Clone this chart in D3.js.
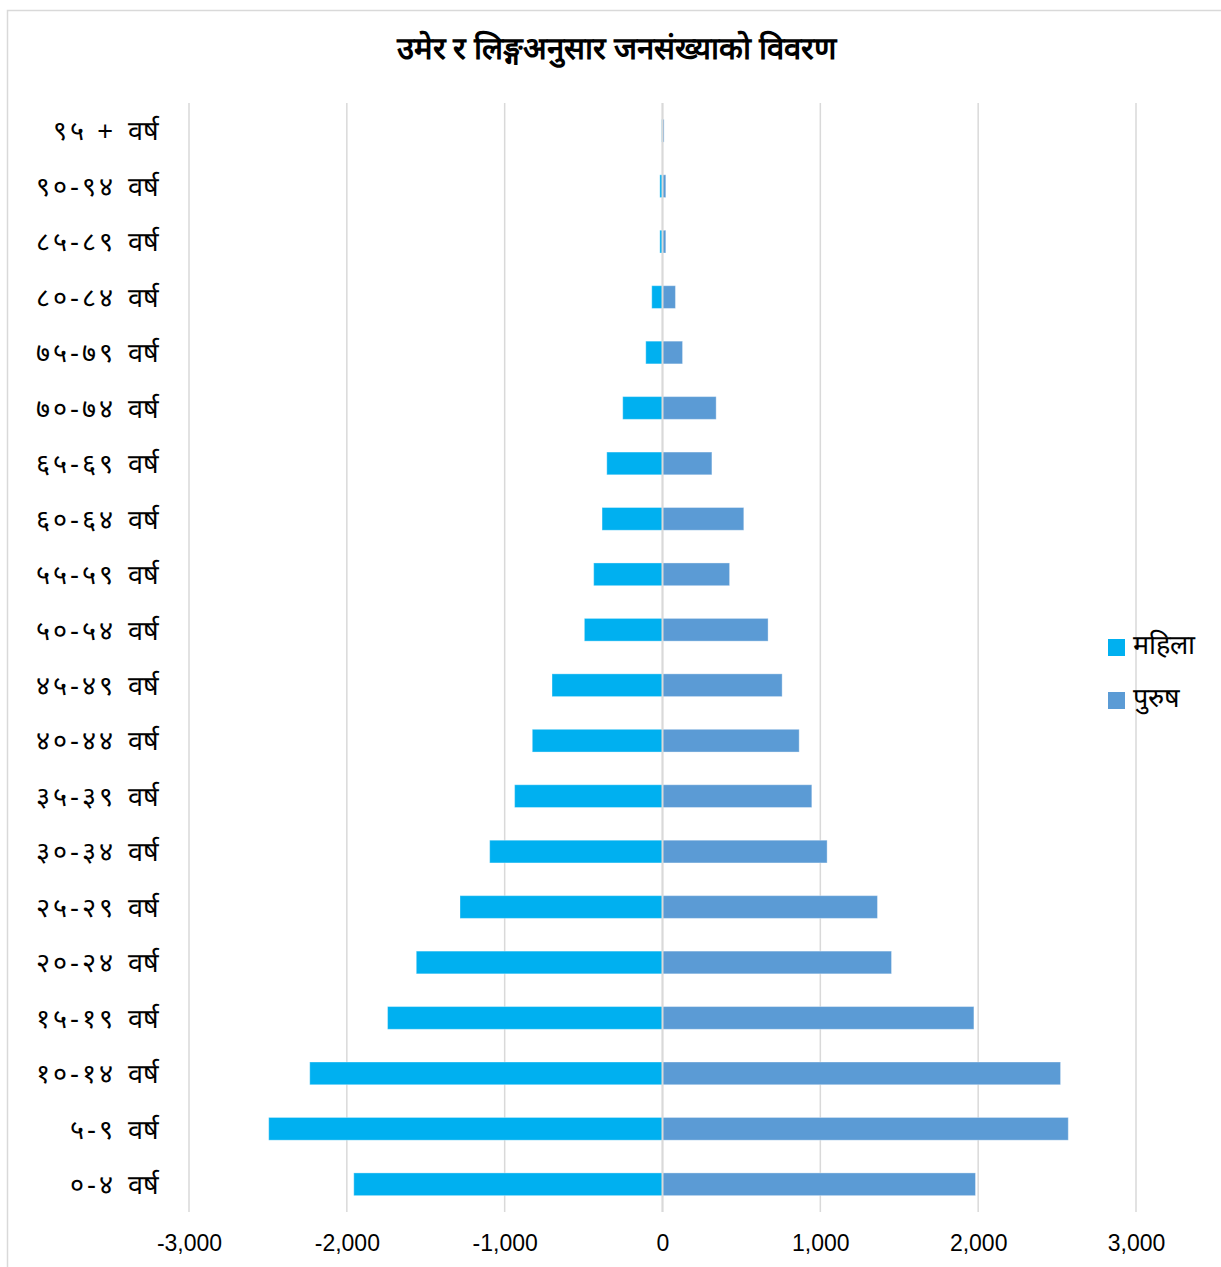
<!DOCTYPE html>
<html>
<head>
<meta charset="utf-8">
<script src="https://cdn.jsdelivr.net/npm/d3@7"></script>
<style>
    body { margin: 0; background: #fff; }
    .grid-line { stroke: #d9d9d9; stroke-width: 1.5; }
</style>
</head>
<body>
<div id="chart"></div>
<script>
// आयु समूह (माथिदेखि तल)
let ageGroups = ["९५ +", "९०-९४", "८५-८९", "८०-८४", "७५-७९",
    "७०-७४", "६५-६९", "६०-६४", "५५-५९", "५०-५४",
    "४५-४९", "४०-४४", "३५-३९", "३०-३४", "२५-२९",
    "२०-२४", "१५-१९", "१०-१४", "५-९", "०-४"]
let unitLabel = "वर्ष"
let female = [-5, -17, -17, -68, -106, -252, -353, -383, -436, -495,
    -700, -825, -937, -1095, -1283, -1560, -1742, -2235, -2495, -1956]
let male = [10, 21, 21, 82, 127, 340, 313, 515, 425, 669,
    758, 866, 946, 1043, 1362, 1451, 1973, 2522, 2571, 1983]
let xTicks = [-3000, -2000, -1000, 0, 1000, 2000, 3000]
let seriesNames = ["महिला", "पुरुष"]
let seriesColors = ["#00B0F0", "#5B9BD5"]
let title = "उमेर र लिङ्गअनुसार जनसंख्याको विवरण"

let width = 1221
let height = 1267
let plotLeft = 189
let plotRight = 1136
let plotTop = 103
let plotBottom = 1212

let svg = d3.select("#chart")
    .append("svg")
    .attr("width", width)
    .attr("height", height)

// चार्टको किनारा
svg.append("rect")
    .attr("x", 7.5)
    .attr("y", 10.5)
    .attr("width", width + 20)
    .attr("height", height + 20)
    .attr("fill", "none")
    .attr("stroke", "#d9d9d9")
    .attr("stroke-width", 1.5)

let scaleX = d3.scaleLinear()
    .domain([-3000, 3000])
    .range([plotLeft, plotRight])

let scaleY = d3.scaleBand()
    .domain(ageGroups)
    .range([plotTop, plotBottom])
    .paddingInner(0.59)
    .paddingOuter(0.295)

let fmt = d3.formatLocale({decimal: ".", thousands: ",", grouping: [3], currency: ["", ""], minus: "-"}).format(",")

// ठाडो ग्रिड रेखा
svg.selectAll(".grid-line")
    .data(xTicks)
    .enter()
    .append("line")
    .classed("grid-line", true)
    .attr("x1", d => scaleX(d))
    .attr("x2", d => scaleX(d))
    .attr("y1", plotTop)
    .attr("y2", plotBottom)

// x अक्ष
let axisX = d3.axisBottom(scaleX)
    .tickValues(xTicks)
    .tickFormat(fmt)
    .tickSize(0)
    .tickPadding(23)

svg.append("g")
    .attr("transform", `translate(0, ${plotBottom})`)
    .call(axisX)
    .call(g => g.select(".domain").remove())
    .selectAll("text")
    .style("font-family", "'Liberation Sans Narrow', 'Liberation Sans', sans-serif")
    .style("font-size", "23px")
    .attr("fill", "#000")

function drawBars(values, color) {
    svg.append("g")
        .selectAll("rect")
        .data(values)
        .enter()
        .append("rect")
        .attr("x", d => scaleX(Math.min(0, d)))
        .attr("y", (d, i) => scaleY(ageGroups[i]))
        .attr("width", d => Math.abs(scaleX(d) - scaleX(0)))
        .attr("height", scaleY.bandwidth())
        .attr("fill", color)
        .attr("stroke", "rgba(255,255,255,0.35)")
        .attr("stroke-width", 1)
}

drawBars(female, seriesColors[0])
drawBars(male, seriesColors[1])

// शून्य रेखा
svg.append("line")
    .attr("x1", scaleX(0))
    .attr("x2", scaleX(0))
    .attr("y1", plotTop)
    .attr("y2", plotBottom)
    .attr("stroke", "#d9d9d9")
    .attr("stroke-width", 2)

// y अक्ष लेबल: अङ्क भाग अक्षबाट, "वर्ष" छुट्टै
let axisY = d3.axisLeft(scaleY)
    .tickSize(0)
    .tickPadding(0)

let yAxis = svg.append("g")
    .attr("transform", "translate(116, 0)")
    .call(axisY)
    .call(g => g.select(".domain").remove())

yAxis.selectAll("text")
    .style("font-size", "27px")
    .style("letter-spacing", "3px")
    .style("white-space", "pre")
    .attr("dy", "0.36em")
    .attr("fill", "#000")

yAxis.selectAll("g.tick")
    .append("text")
    .attr("x", 12)
    .attr("dy", "0.36em")
    .attr("fill", "#000")
    .style("font-size", "27px")
    .style("text-anchor", "start")
    .text(unitLabel)

// शीर्षक
svg.append("text")
    .attr("x", 616)
    .attr("y", 52)
    .attr("text-anchor", "middle")
    .attr("dominant-baseline", "middle")
    .style("font-size", "31px")
    .style("font-weight", "bold")
    .text(title)

// लेजेन्ड
let legend = svg.append("g")
    .selectAll("g")
    .data(seriesNames)
    .enter()
    .append("g")
    .attr("transform", (d, i) => `translate(1108, ${639 + i * 53})`)

legend.append("rect")
    .attr("width", 17)
    .attr("height", 17)
    .attr("fill", (d, i) => seriesColors[i])

legend.append("text")
    .attr("x", 25)
    .attr("y", 9)
    .attr("dominant-baseline", "middle")
    .style("font-size", "27px")
    .text(d => d)
</script>
</body>
</html>
